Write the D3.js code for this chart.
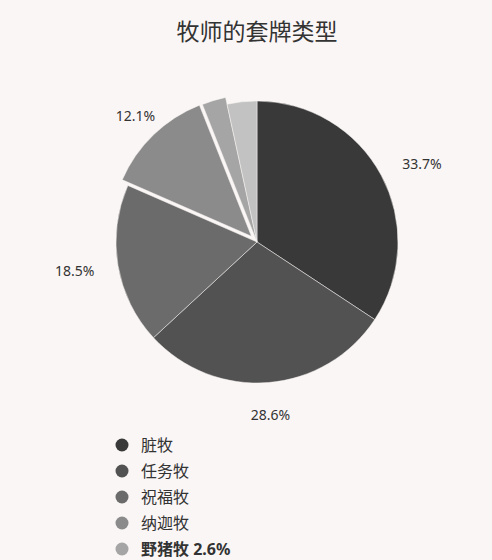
<!DOCTYPE html>
<html>
<head>
<meta charset="utf-8">
<script src="https://cdn.jsdelivr.net/npm/d3@7"></script>
<style>
  html, body { margin: 0; padding: 0; background: #faf6f5; }
  text { font-family: "Noto Sans", "Noto Sans CJK SC", sans-serif; fill: #333; }
</style>
</head>
<body>
<div id="chart"></div>
<script>
var names = ["脏牧", "任务牧", "祝福牧", "纳迦牧", "野猪牧", "其他"];
var values = [34.2, 28.8, 18.4, 12.4, 2.6, 3.4];
var pctLabels = ["33.7%", "28.6%", "18.5%", "12.1%", "2.6%", ""];
var colors = ["#393939", "#525252", "#6b6b6b", "#8b8b8b", "#a5a5a5", "#c2c2c2"];
var explodedIndex = 3;
var hoverIndex = 4;

var width = 492, height = 560;
var cx = 257, cy = 242, radius = 141;
var explode = 8, labelR = 165;

var svg = d3.select("#chart")
	.append("svg")
	.attr("width", width)
	.attr("height", height);

svg.append("text")
	.attr("x", cx)
	.attr("y", 40)
	.attr("text-anchor", "middle")
	.style("font-family", "'Noto Sans CJK SC', sans-serif")
	.style("font-size", "23px")
	.text("牧师的套牌类型");

var pie = d3.pie().sort(null).value(function (d) { return d; });
var arcs = pie(values);

var arc = d3.arc().innerRadius(0).outerRadius(radius);
var hoverArc = d3.arc().innerRadius(0).outerRadius(radius + 7);

function mid(d) { return (d.startAngle + d.endAngle) / 2; }

var pieG = svg.append("g").attr("transform", "translate(" + cx + "," + cy + ")");

pieG.selectAll(".slice")
	.data(arcs)
	.enter()
	.append("path")
	.attr("class", "slice")
	.attr("d", function (d, i) { return i === hoverIndex ? hoverArc(d) : arc(d); })
	.attr("fill", function (d, i) { return colors[i]; })
	.attr("stroke", "#faf6f5")
	.attr("stroke-width", 0.5)
	.attr("transform", function (d, i) {
		if (i !== explodedIndex) return null;
		var a = mid(d);
		return "translate(" + (Math.sin(a) * explode) + "," + (-Math.cos(a) * explode) + ")";
	});

// labels: beside the slice on the left/right, centred near top and bottom
pieG.selectAll(".label")
	.data(arcs.filter(function (d, i) { return pctLabels[i] !== "" && i !== hoverIndex; }))
	.enter()
	.append("text")
	.attr("class", "label")
	.attr("x", function (d) {
		var r = labelR + (d.index === explodedIndex ? explode + 2 : 0);
		return Math.sin(mid(d)) * r;
	})
	.attr("y", function (d) {
		var r = labelR + (d.index === explodedIndex ? explode + 2 : 0);
		return -Math.cos(mid(d)) * r;
	})
	.attr("dy", function (d) {
		return (0.35 + Math.max(0, -Math.cos(mid(d))) * 0.65) + "em";
	})
	.attr("text-anchor", function (d) {
		var s = Math.sin(mid(d));
		if (Math.abs(s) < 0.75) return "middle";
		return s > 0 ? "start" : "end";
	})
	.style("font-size", "14px")
	.text(function (d) { return pctLabels[d.index]; });

var rowH = 26;
var legendTop = 445;
var legendRows = names.filter(function (d, i) { return legendTop + i * rowH < height; });

var legend = svg.append("g").attr("transform", "translate(122," + legendTop + ")");

var item = legend.selectAll(".item")
	.data(legendRows)
	.enter()
	.append("g")
	.attr("class", "item")
	.attr("transform", function (d, i) { return "translate(0," + (i * rowH) + ")"; });

item.append("circle")
	.attr("r", 6.5)
	.attr("fill", function (d, i) { return colors[i]; });

item.append("text")
	.attr("x", 19)
	.attr("dy", "0.35em")
	.style("font-size", "16px")
	.style("font-weight", function (d, i) { return i === hoverIndex ? "bold" : "normal"; })
	.text(function (d, i) { return i === hoverIndex ? d + " " + pctLabels[i] : d; });
</script>
</body>
</html>
